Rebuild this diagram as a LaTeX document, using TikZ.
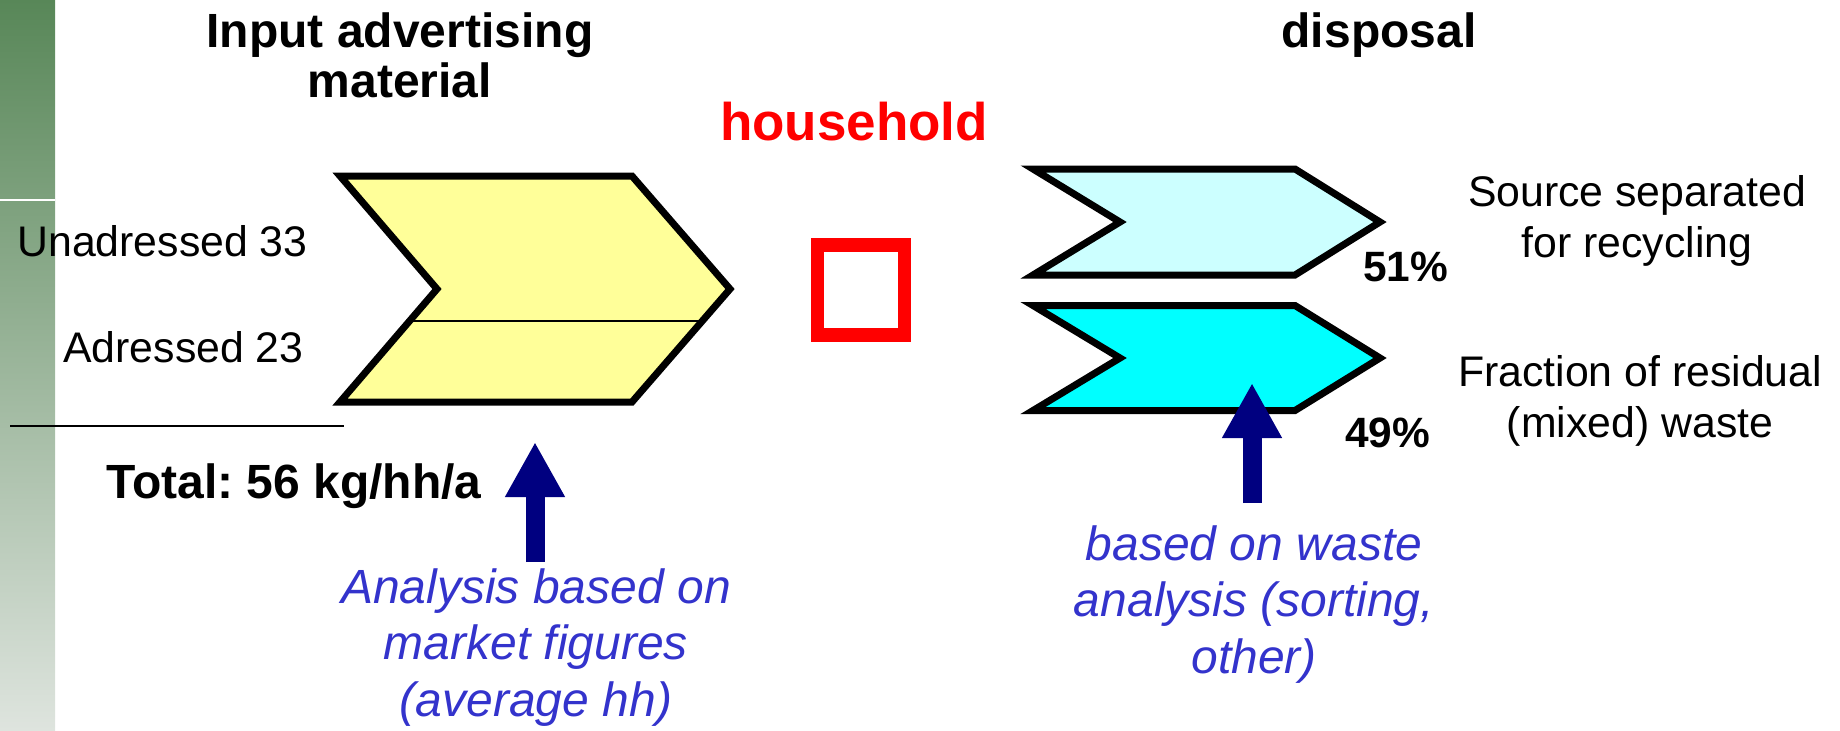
\documentclass[tikz,border=0pt]{standalone}
\usepackage{fontspec}
\setmainfont{Liberation Sans}
\usetikzlibrary{arrows.meta}
\definecolor{stripdark}{RGB}{88,135,88}
\definecolor{striplight}{RGB}{222,228,222}
\definecolor{paleyellow}{RGB}{255,255,153}
\definecolor{palecyan}{RGB}{204,255,255}
\definecolor{fullcyan}{RGB}{0,255,255}
\definecolor{arrownavy}{RGB}{0,0,128}
\definecolor{notesblue}{RGB}{51,51,204}
\tikzset{
  chevron/.style={draw=black, line width=3.5pt, line join=miter},
  headtext/.style={font=\fontsize{24}{25}\selectfont\bfseries, align=center, inner sep=0pt},
  sidetext/.style={font=\fontsize{21.4}{25.5}\selectfont, align=center, inner sep=0pt},
  pcttext/.style={font=\fontsize{21.2}{25.5}\selectfont\bfseries, inner sep=0pt},
  notetext/.style={font=\fontsize{24}{28.2}\selectfont\itshape, text=notesblue, align=center, inner sep=0pt},
  bluearrow/.style={draw=arrownavy, line width=9.5pt, -{Triangle[length=27.5pt,width=28pt]}}
}
\begin{document}
\begin{tikzpicture}[x=0.5pt,y=-0.5pt]
\useasboundingbox (0,0) rectangle (1840,730);
% slide border
\shade[top color=stripdark, bottom color=striplight] (0,0) rectangle (55,730);
\draw[white, line width=1pt] (0,200) -- (55,200);

% headings (base = last line)
\node[headtext, anchor=base] (inputtitle) at (400,97) {Input advertising\\material};
\node[headtext, anchor=base] (disptitle) at (1379,47) {disposal};
\node[headtext, font=\fontsize{26.5}{28}\selectfont\bfseries, text=red, anchor=base] (hhtitle) at (854,140) {household};

% input side
\node[sidetext, anchor=base east] (unaddr) at (308,256) {Unadressed 33};
\node[sidetext, anchor=base east] (addr) at (304,362) {Adressed 23};
\draw[line width=1pt] (10,426) -- (344,426);
\node[headtext, anchor=base west] (total) at (106,498) {Total:\ 56 kg/hh/a};
\fill[paleyellow] (340,176) -- (632,176) -- (730,289) -- (632,402) -- (340,402) -- (437,289) -- cycle;
\draw[line width=0.8pt] (409.5,321) -- (702,321);
\draw[chevron] (340,176) -- (632,176) -- (730,289) -- (632,402) -- (340,402) -- (437,289) -- cycle;

% household
\node[draw=red, line width=6.75pt, minimum width=43.5pt, minimum height=45pt, inner sep=0pt] (hhbox) at (861,290) {};

% disposal side
\filldraw[chevron, fill=palecyan] (1033,169) -- (1295,169) -- (1380,222) -- (1295,275) -- (1033,275) -- (1120,222) -- cycle;
\filldraw[chevron, fill=fullcyan] (1033,305.5) -- (1295,305.5) -- (1380,358) -- (1295,410.5) -- (1033,410.5) -- (1120,358) -- cycle;
\node[pcttext, anchor=base west] (pcttop) at (1363,281) {51\%};
\node[pcttext, anchor=base west] (pctbot) at (1345,447) {49\%};
\node[sidetext, anchor=base] (sepcoll) at (1637,257) {Source separated\\for recycling};
\node[sidetext, anchor=base] (residual) at (1640,437) {Fraction of residual\\(mixed) waste};

% data sources
\node[notetext, anchor=base] (marketnote) at (536,716) {Analysis based on\\market figures\\(average hh)};
\node[notetext, anchor=base] (sortnote) at (1254,673) {based on waste\\analysis (sorting,\\other)};
\coordinate (marketfoot) at (535,562);
\coordinate (markettip) at (535,442);
\draw[bluearrow] (marketfoot) -- (markettip);
\coordinate (sortfoot) at (1252,503);
\coordinate (sorttip) at (1252,383);
\draw[bluearrow] (sortfoot) -- (sorttip);
\end{tikzpicture}
\end{document}
